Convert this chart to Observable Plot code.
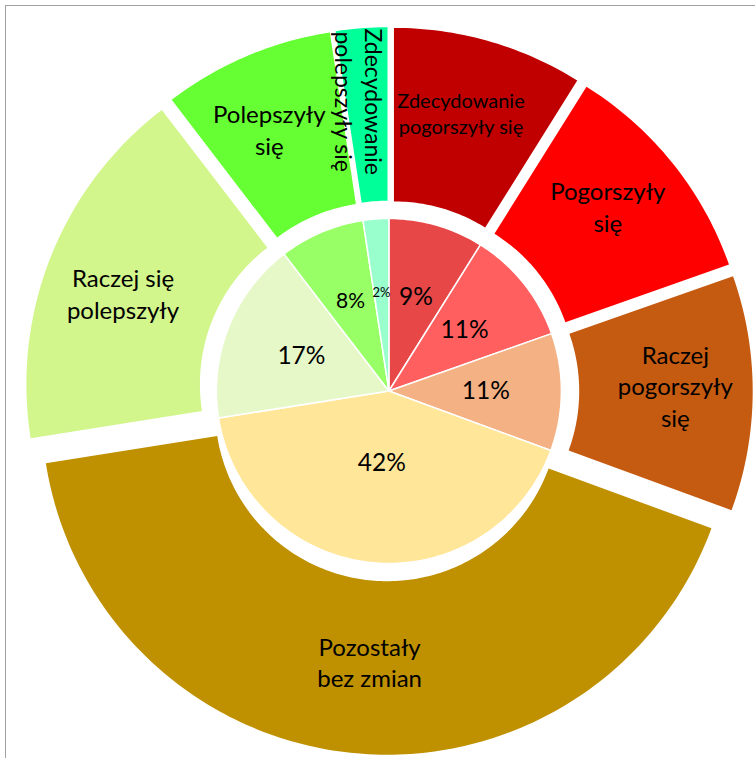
<!DOCTYPE html>
<html><head><meta charset="utf-8">
<script src="https://cdn.jsdelivr.net/npm/d3@7"></script>
<script src="https://cdn.jsdelivr.net/npm/@observablehq/plot@0.6"></script>
<style>
html,body{margin:0;padding:0;background:#fff;}
#wrap{position:relative;width:755px;height:758px;overflow:hidden;}
#border{position:absolute;left:5px;top:5px;width:900px;height:900px;border-left:1.5px solid #a0a0a0;border-top:1.5px solid #a0a0a0;}
#chart{position:absolute;left:0;top:0;}
</style></head><body>
<div id="wrap"><div id="border"></div><div id="chart"></div></div>
<script>
// ---- data ----
const categories = ["Zdecydowanie pogorszyły się","Pogorszyły się","Raczej pogorszyły się","Pozostały bez zmian","Raczej się polepszyły","Polepszyły się","Zdecydowanie polepszyły się"];
const outerLabels = ["Zdecydowanie\npogorszyły się","Pogorszyły\nsię","Raczej\npogorszyły\nsię","Pozostały\nbez zmian","Raczej się\npolepszyły","Polepszyły\nsię","Zdecydowanie\npolepszyły się"];
const values = [8.9, 10.7, 11.0, 41.9, 17.1, 8.0, 2.4];

// ---- styles ----
const outerColors = ["#C00000","#FF0000","#C55A11","#BF9000","#D2F58C","#66FF33","#00FF99"];
const innerColors = ["#E74747","#FF5F5F","#F4B183","#FFE699","#E6F8C8","#99FF66","#99FFCC"];
const outerFontSize = [20, 24, 24, 24, 24, 24, 23];
const outerRotate = [0, 0, 0, 0, 0, 0, 90];
const innerFontSize = [24.5, 24.5, 24.5, 24.5, 24.5, 21, 13];

const W = 755, H = 758, CX = 388.4, CY = 390.5;
const R_PIE = 172.5, R_IN = 172, R_OUT = 345.5, EXPLODE = 18.3;
const INNER_LABEL_K = 0.86, LABEL_ANGLE_SHIFT = -1.5 * Math.PI / 180;

const total = d3.sum(values);
const cum = d3.cumsum(values);
const slices = values.map((v, i) => {
  const a0 = (cum[i] - v) / total * 2 * Math.PI, a1 = cum[i] / total * 2 * Math.PI;
  return {i, cat: categories[i], value: v, pct: v / total * 100, a0, a1, mid: (a0 + a1) / 2};
});
const pt = (r, a, ox = 0, oy = 0) => [ox + r * Math.sin(a), oy - r * Math.cos(a)];

const outerPts = [], innerPts = [];
slices.forEach(s => {
  const ox = EXPLODE * Math.sin(s.mid), oy = -EXPLODE * Math.cos(s.mid);
  const n = Math.max(2, Math.ceil((s.a1 - s.a0) / (2 * Math.PI) * 360));
  for (let k = 0; k <= n; k++) {
    const a = s.a0 + (s.a1 - s.a0) * k / n; const [x, y] = pt(R_OUT, a, ox, oy);
    outerPts.push({key: s.cat, x, y, color: outerColors[s.i]});
  }
  for (let k = n; k >= 0; k--) {
    const a = s.a0 + (s.a1 - s.a0) * k / n; const [x, y] = pt(R_IN, a, ox, oy);
    outerPts.push({key: s.cat, x, y, color: outerColors[s.i]});
  }
  innerPts.push({key: s.cat, x: 0, y: 0, color: innerColors[s.i]});
  for (let k = 0; k <= n; k++) {
    const a = s.a0 + (s.a1 - s.a0) * k / n; const [x, y] = pt(R_PIE, a);
    innerPts.push({key: s.cat, x, y, color: innerColors[s.i]});
  }
});

const outerText = slices.map(s => {
  const r = 292 - 0.5 * s.pct;
  const [x, y] = pt(r, s.mid + LABEL_ANGLE_SHIFT);
  return {x, y, text: outerLabels[s.i], size: outerFontSize[s.i], rot: outerRotate[s.i]};
});
const innerText = slices.map(s => {
  const al = (s.a1 - s.a0) / 2;
  const r = INNER_LABEL_K * (2 / 3) * R_PIE * Math.sin(al) / al;
  const [x, y] = pt(r, s.mid);
  return {x, y, text: Math.round(s.pct) + "%", size: innerFontSize[s.i]};
});

const chart = Plot.plot({
  width: W, height: H, margin: 0,
  style: {background: "transparent"},
  x: {domain: [-CX, W - CX], range: [0, W], axis: null},
  y: {domain: [-CY, H - CY], range: [0, H], axis: null},
  marks: [
    Plot.line(outerPts, {x: "x", y: "y", z: "key", fill: "color", stroke: "none", curve: "linear-closed"}),
    Plot.line(innerPts, {x: "x", y: "y", z: "key", fill: "color", stroke: "white", strokeWidth: 1.5, curve: "linear-closed"}),
    Plot.text(outerText, {x: "x", y: "y", text: "text", fontSize: "size", rotate: "rot", fill: "#000", fontFamily: "Lato", lineHeight: 1.32}),
    Plot.text(innerText, {x: "x", y: "y", text: "text", fontSize: "size", fill: "#000", fontFamily: "Lato"})
  ]
});
document.getElementById("chart").appendChild(chart);
</script>
</body></html>
